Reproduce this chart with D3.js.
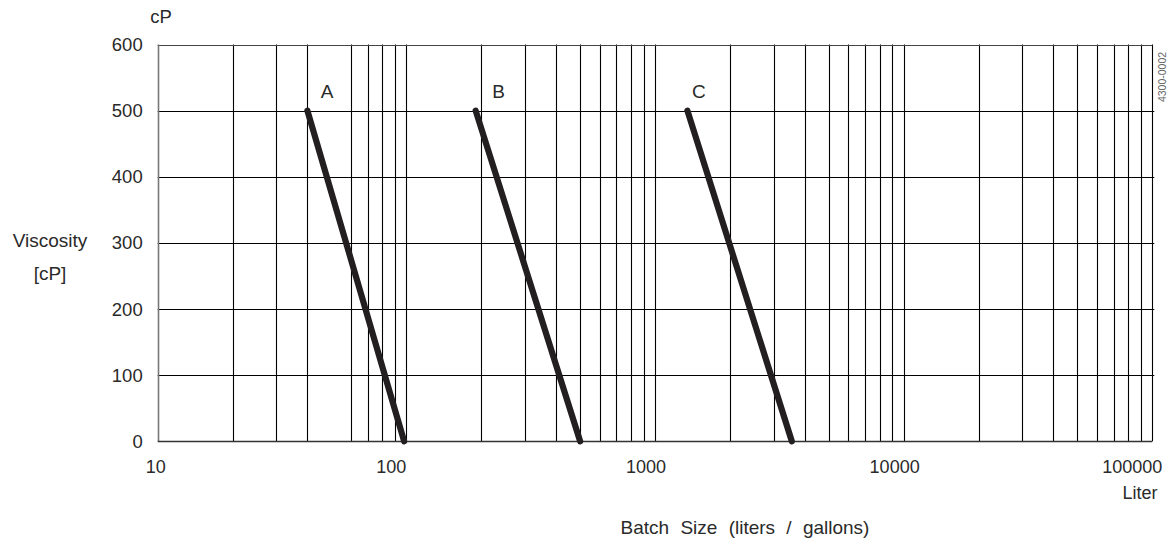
<!DOCTYPE html>
<html>
<head>
<meta charset="utf-8">
<script src="https://cdn.jsdelivr.net/npm/d3@7"></script>
<style>
  html, body { margin: 0; padding: 0; background: #fff; }
  svg { display: block; font-family: "Liberation Sans", Arial, Helvetica, sans-serif; }
</style>
</head>
<body>
<svg id="chart" width="1169" height="540"></svg>
<script>
// ---- data ----
const xTickValues = [10, 100, 1000, 10000, 100000];
const yTickValues = [0, 100, 200, 300, 400, 500, 600];
const xGridValues = [20, 30, 40, 60, 70, 80, 90,
  100, 200, 300, 400, 500, 600, 700, 800, 900,
  1000, 2000, 3000, 4000, 5000, 6000, 7000, 8000, 9000,
  10000, 20000, 30000, 40000, 50000, 60000, 70000, 80000, 90000, 100000];
const seriesNames = ["A", "B", "C"];
const batchAt500 = [40, 190, 1350];    // liters at 500 cP
const batchAt0 = [98, 500, 3550];      // liters at 0 cP
const viscosityTop = 500;
const viscosityBottom = 0;
const labelBatch = [48, 235, 1500];
const labelViscosity = 520;

// ---- scales ----
const svg = d3.select("#chart");
const x = d3.scaleLog().domain([10, 100000]).range([157.7, 1152.3]);
const y = d3.scaleLinear().domain([0, 600]).range([441.3, 44.5]);
const textColor = "#2a2a2a";
const xLabelShift = [-2, -15, -9, -9, -20];

// horizontal grid lines
svg.append("g").selectAll("line")
  .data(yTickValues.filter(v => v > 0 && v < 600))
  .join("line")
  .attr("x1", x(10)).attr("x2", x(100000) + 2)
  .attr("y1", d => Math.round(y(d)) + 0.5).attr("y2", d => Math.round(y(d)) + 0.5)
  .attr("stroke", "#000").attr("stroke-width", 1.1);

// vertical grid lines
svg.append("g").selectAll("line")
  .data(xGridValues)
  .join("line")
  .attr("x1", d => Math.round(x(d)) + 0.5).attr("x2", d => Math.round(x(d)) + 0.5)
  .attr("y1", y(600)).attr("y2", y(0))
  .attr("stroke", "#000").attr("stroke-width", 1.1);

// border: top, left, bottom
svg.append("line").attr("x1", x(10)).attr("x2", x(100000))
  .attr("y1", Math.round(y(600)) + 0.5).attr("y2", Math.round(y(600)) + 0.5)
  .attr("stroke", "#444").attr("stroke-width", 1.2);
svg.append("line").attr("x1", Math.round(x(10)) + 0.5).attr("x2", Math.round(x(10)) + 0.5)
  .attr("y1", y(600)).attr("y2", y(0))
  .attr("stroke", "#777").attr("stroke-width", 1.6);
svg.append("line").attr("x1", x(10)).attr("x2", x(100000))
  .attr("y1", Math.round(y(0)) + 0.5).attr("y2", Math.round(y(0)) + 0.5)
  .attr("stroke", "#333").attr("stroke-width", 1.4);

// y tick labels
svg.append("g").selectAll("text")
  .data(yTickValues)
  .join("text")
  .attr("x", x(10) - 15)
  .attr("y", d => y(d) + 6.5)
  .attr("text-anchor", "end")
  .attr("font-size", 18.5)
  .attr("fill", textColor)
  .text(d => d);

// x tick labels
svg.append("g").selectAll("text")
  .data(xTickValues)
  .join("text")
  .attr("x", (d, i) => x(d) + xLabelShift[i])
  .attr("y", 473)
  .attr("text-anchor", "middle")
  .attr("font-size", 18)
  .attr("fill", textColor)
  .text(d => d);

// series lines
const line = d3.line().x(d => x(d[0])).y(d => y(d[1]));
svg.append("g").selectAll("path")
  .data(seriesNames.map((n, i) => [[batchAt500[i], viscosityTop], [batchAt0[i], viscosityBottom]]))
  .join("path")
  .attr("d", line)
  .attr("fill", "none")
  .attr("stroke", "#231f20")
  .attr("stroke-width", 6.2)
  .attr("stroke-linecap", "round");

// series labels
svg.append("g").selectAll("text")
  .data(seriesNames)
  .join("text")
  .attr("x", (d, i) => x(labelBatch[i]))
  .attr("y", y(labelViscosity) + 1)
  .attr("text-anchor", "middle")
  .attr("font-size", 19)
  .attr("fill", textColor)
  .text(d => d);

// axis titles
svg.append("text").attr("x", 161).attr("y", 22.5).attr("text-anchor", "middle")
  .attr("font-size", 18.5).attr("fill", textColor).text("cP");
svg.append("text").attr("x", 50).attr("y", 247).attr("text-anchor", "middle")
  .attr("font-size", 19).attr("fill", textColor).text("Viscosity");
svg.append("text").attr("x", 50).attr("y", 280).attr("text-anchor", "middle")
  .attr("font-size", 19).attr("fill", textColor).text("[cP]");
svg.append("text").attr("x", 1140).attr("y", 499).attr("text-anchor", "middle")
  .attr("font-size", 18).attr("fill", textColor).text("Liter");
svg.append("text").attr("x", 745).attr("y", 534).attr("text-anchor", "middle")
  .attr("font-size", 19).attr("word-spacing", 6).attr("fill", textColor)
  .text("Batch Size (liters / gallons)");

// figure code
svg.append("text")
  .attr("transform", "translate(1166,77) rotate(-90)")
  .attr("text-anchor", "middle")
  .attr("font-size", 10.5).attr("fill", "#666")
  .text("4300-0002");
</script>
</body>
</html>
